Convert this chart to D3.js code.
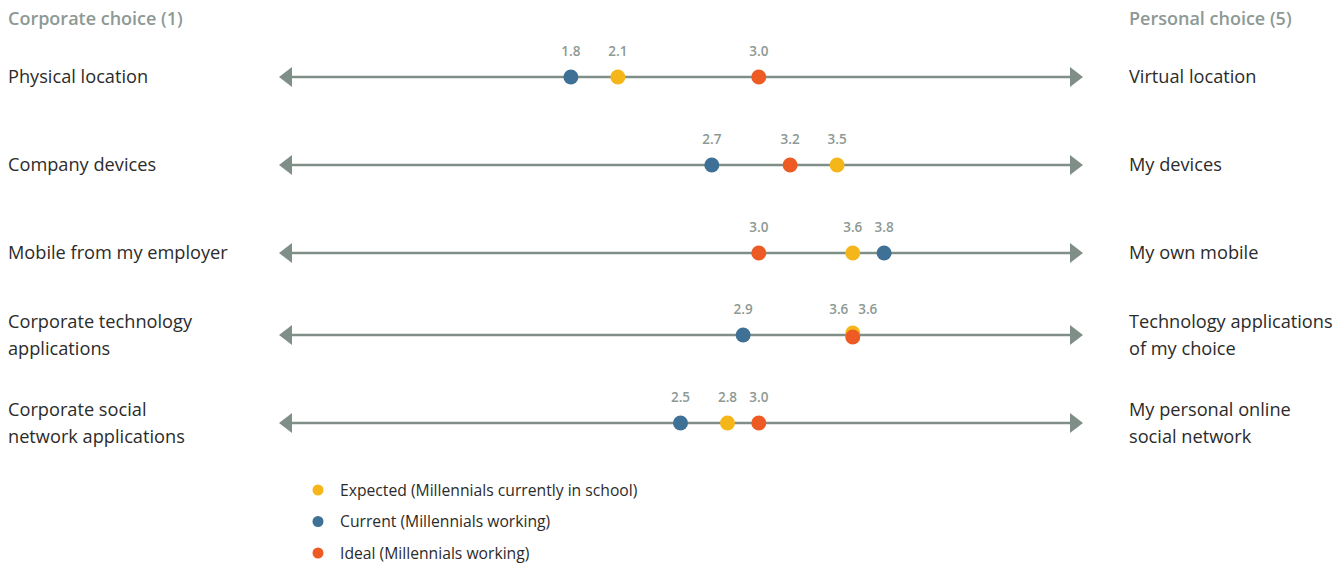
<!DOCTYPE html>
<html>
<head>
<meta charset="utf-8">
<script src="https://cdn.jsdelivr.net/npm/d3@7"></script>
<style>
  body { margin: 0; background: #fff; }
  text { font-family: "Open Sans", sans-serif; }
</style>
</head>
<body>
<div id="chart"></div>
<script>
// data
var leftLabels = [["Physical location"], ["Company devices"], ["Mobile from my employer"],
    ["Corporate technology", "applications"], ["Corporate social", "network applications"]];
var rightLabels = [["Virtual location"], ["My devices"], ["My own mobile"],
    ["Technology applications", "of my choice"], ["My personal online", "social network"]];
var expected = [2.1, 3.5, 3.6, 3.6, 2.8];
var current = [1.8, 2.7, 3.8, 2.9, 2.5];
var ideal = [3.0, 3.2, 3.0, 3.6, 3.0];
var seriesNames = ["Expected (Millennials currently in school)", "Current (Millennials working)", "Ideal (Millennials working)"];
var colors = ["#f4b619", "#3f7196", "#ee5a24"];

var svgWidth = 1341;
var svgHeight = 566;
var rowY = [77, 165, 253, 335, 423];

var svg = d3.select("#chart")
    .append("svg")
    .attr("width", svgWidth)
    .attr("height", svgHeight)

var x = d3.scaleLinear()
    .domain([0, 5])
    .range([289, 1072]);

var grey = "#7f8f88";

// headers
svg.append("text")
    .attr("x", 8).attr("y", 25)
    .attr("font-size", 18).attr("font-weight", 600)
    .attr("fill", "#8d9994")
    .text("Corporate choice (1)");
svg.append("text")
    .attr("x", 1129).attr("y", 25)
    .attr("font-size", 18).attr("font-weight", 600)
    .attr("fill", "#8d9994")
    .text("Personal choice (5)");

function multiLine(sel, lines, xPos, y) {
    var t = sel.append("text")
        .attr("x", xPos)
        .attr("font-size", 18.2)
        .attr("fill", "#2b2b2b");
    var off = lines.length == 1 ? 0 : -13.5;
    lines.forEach(function(l, i) {
        t.append("tspan")
            .attr("x", xPos)
            .attr("y", y + off + i * 27 + 6)
            .text(l);
    });
}

rowY.forEach(function(y, i) {
    var g = svg.append("g");
    // axis line with arrows
    g.append("line")
        .attr("x1", 290).attr("x2", 1072)
        .attr("y1", y).attr("y2", y)
        .attr("stroke", grey).attr("stroke-width", 2.5);
    g.append("path")
        .attr("d", `M279,${y} L292,${y - 10} L292,${y + 10} Z`)
        .attr("fill", grey);
    g.append("path")
        .attr("d", `M1083,${y} L1070,${y - 10} L1070,${y + 10} Z`)
        .attr("fill", grey);

    multiLine(svg, leftLabels[i], 8, y);
    multiLine(svg, rightLabels[i], 1129, y);

    var pts = [
        { v: expected[i], c: colors[0] },
        { v: current[i], c: colors[1] },
        { v: ideal[i], c: colors[2] }
    ];
    // nudge exact overlaps
    pts.forEach(function(p) { p.dy = 0; p.dx = 0; });
    for (var a = 0; a < 3; a++) {
        for (var b = a + 1; b < 3; b++) {
            if (pts[a].v == pts[b].v) {
                pts[a].dy = -2; pts[b].dy = 2;
                pts[a].dx = -14; pts[b].dx = 15;
            }
        }
    }
    pts.forEach(function(p) {
        g.append("circle")
            .attr("cx", x(p.v))
            .attr("cy", y + p.dy)
            .attr("r", 7.5)
            .attr("fill", p.c);
        g.append("text")
            .attr("x", x(p.v) + p.dx)
            .attr("y", y - 21)
            .attr("text-anchor", "middle")
            .attr("font-size", 13.5)
            .attr("font-weight", 600)
            .attr("fill", "#8d9994")
            .text(p.v.toFixed(1));
    });
});

// legend
var legend = svg.selectAll(".legend")
    .data(seriesNames)
    .enter()
    .append("g")
    .attr("transform", (d, i) => `translate(318, ${490 + i * 31.5})`);
legend.append("circle")
    .attr("r", 5.5)
    .attr("fill", (d, i) => colors[i]);
legend.append("text")
    .attr("x", 22)
    .attr("y", 5.5)
    .attr("font-size", 15.7)
    .attr("fill", "#2b2b2b")
    .text(d => d);
</script>
</body>
</html>
